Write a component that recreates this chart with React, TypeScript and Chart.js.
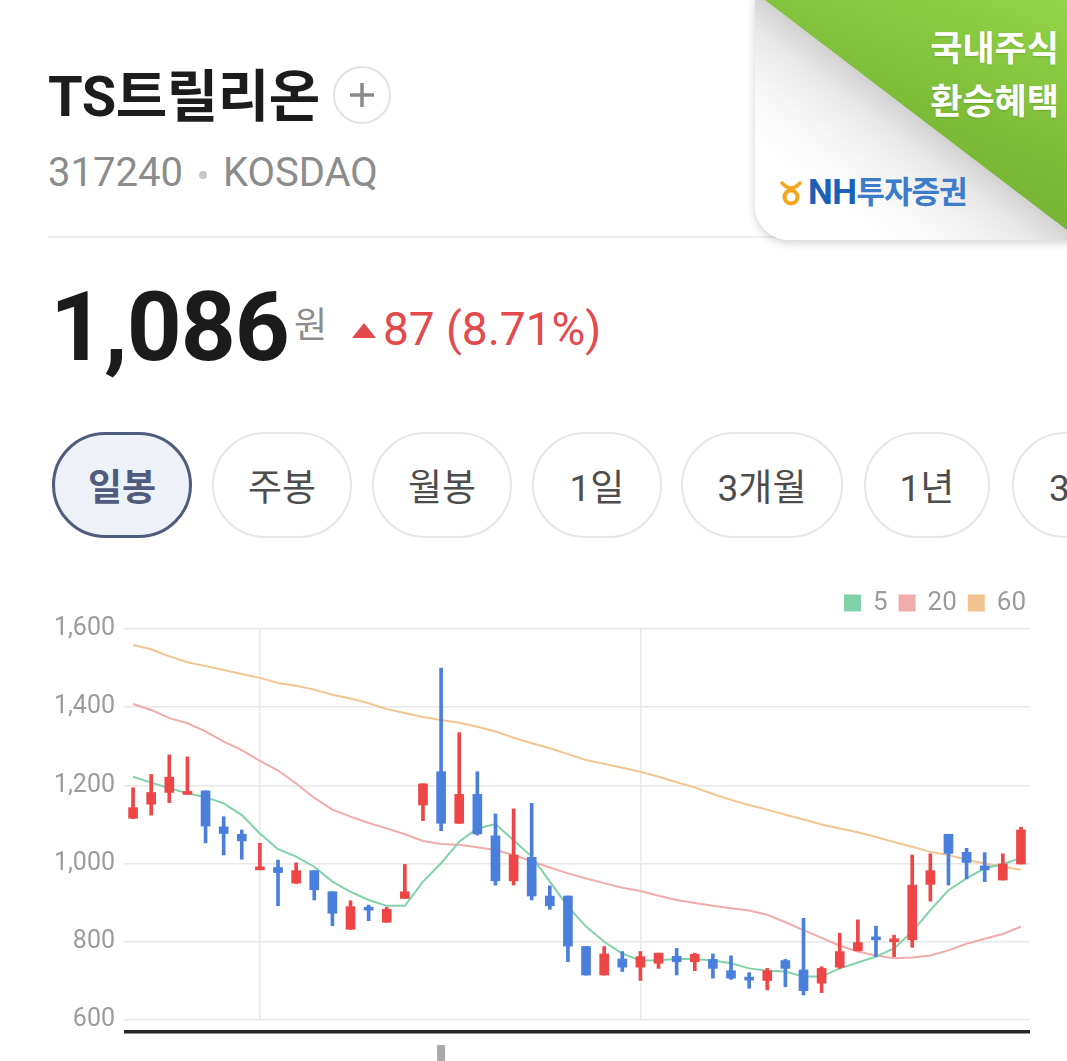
import React, { useEffect, useRef } from "react";
import { Chart, registerables } from "chart.js";

Chart.register(...registerables);

// ---- Daily candles (KRW) ----
const OPEN = [1116, 1152, 1182, 1177, 1186, 1094, 1075, 984, 990, 950, 982, 928, 832, 886, 850, 911, 1150, 1235, 1103, 1177, 1071, 956, 1016, 917, 917, 788, 715, 756, 735, 745, 763, 749, 755, 726, 707, 701, 752, 728, 694, 735, 777, 811, 800, 805, 947, 1075, 1029, 994, 958, 999];
const HIGH = [1194, 1228, 1278, 1273, 1186, 1120, 1086, 1052, 1009, 1002, 982, 928, 905, 894, 888, 998, 1204, 1500, 1335, 1235, 1127, 1140, 1154, 943, 917, 788, 788, 775, 775, 771, 783, 771, 769, 764, 721, 732, 755, 860, 736, 822, 856, 840, 817, 1022, 1025, 1075, 1039, 1028, 1025, 1093];
const LOW = [1115, 1124, 1156, 1177, 1053, 1022, 1011, 984, 892, 949, 907, 841, 832, 854, 850, 911, 1110, 1084, 1103, 1073, 945, 945, 907, 883, 749, 715, 715, 724, 701, 732, 715, 726, 707, 704, 681, 677, 685, 664, 670, 732, 777, 762, 762, 786, 904, 945, 961, 954, 958, 999];
const CLOSE = [1143, 1182, 1221, 1180, 1096, 1077, 1058, 990, 977, 982, 933, 873, 890, 881, 883, 928, 1204, 1103, 1177, 1076, 956, 1022, 917, 892, 789, 715, 769, 735, 762, 771, 749, 768, 732, 707, 702, 726, 732, 675, 732, 775, 798, 805, 806, 945, 982, 1026, 1003, 984, 999, 1086];

// ---- Moving averages ----
const MA5 = [1222, 1207, 1193, 1180, 1170, 1154, 1124, 1077, 1037, 1018, 992, 954, 928, 907, 892, 892, 954, 1001, 1056, 1090, 1101, 1060, 1018, 954, 890, 839, 800, 770, 752, 753, 756, 756, 752, 745, 732, 726, 724, 711, 711, 732, 747, 762, 783, 826, 881, 932, 962, 988, 999, 1014];
const MA20 = [1408, 1393, 1372, 1359, 1338, 1312, 1290, 1263, 1238, 1205, 1168, 1138, 1120, 1104, 1090, 1075, 1058, 1050, 1048, 1042, 1035, 1022, 1006, 990, 975, 962, 950, 938, 930, 918, 907, 899, 892, 886, 880, 869, 850, 830, 810, 790, 775, 765, 758, 760, 765, 778, 795, 808, 820, 839];
const MA60 = [1559, 1548, 1530, 1515, 1505, 1495, 1485, 1475, 1462, 1455, 1445, 1432, 1422, 1410, 1395, 1385, 1375, 1367, 1360, 1350, 1338, 1322, 1308, 1295, 1280, 1265, 1255, 1245, 1235, 1222, 1208, 1195, 1178, 1163, 1150, 1138, 1125, 1113, 1100, 1090, 1080, 1068, 1055, 1043, 1030, 1022, 1010, 1000, 992, 984];

const MA_LABELS = ["5", "20", "60"];
const Y_TICKS = [600, 800, 1000, 1200, 1400, 1600];
const MONTH_START_IDX = [7, 28];
const VIEW_MARKER_IDX = 17;

const PERIOD_TABS = ["일봉", "주봉", "월봉", "1일", "3개월", "1년", "3년"];

const RED = "#ee4646";
const BLUE = "#4a7fdc";
const FONT = "Roboto, 'Noto Sans CJK KR', sans-serif";

function CandleChart() {
  const ref = useRef<HTMLCanvasElement | null>(null);
  useEffect(() => {
    if (!ref.current) return;
    const categories = CLOSE.map((_, i) => String(i + 1));
    const colors = CLOSE.map((c, i) => (c >= OPEN[i] ? RED : BLUE));

    const legendGap = {
      id: "legendGap",
      beforeInit(chart: any) {
        const l = chart.legend;
        if (!l) return;
        const orig = l.fit;
        l.fit = function () {
          orig.call(this);
          this.height += 3;
        };
      },
      afterLayout(chart: any) {
        const l = chart.legend;
        if (!l) return;
        l.left += 8;
        l.right += 8;
      },
    };
    const axisDecor = {
      id: "axisDecor",
      afterDraw(chart: any) {
        const { ctx, chartArea } = chart;
        const xs = chart.scales.x;
        ctx.save();
        ctx.fillStyle = "#262626";
        ctx.fillRect(chartArea.left, chartArea.bottom + 10, chartArea.right - chartArea.left, 3.5);
        const mx = xs.getPixelForValue(VIEW_MARKER_IDX);
        ctx.fillStyle = "#a9a9a9";
        ctx.fillRect(mx - 4, chartArea.bottom + 25, 8, chart.height - chartArea.bottom - 25);
        ctx.restore();
      },
    };

    const chart = new Chart(ref.current, {
      type: "bar",
      data: {
        labels: categories,
        datasets: [
          {
            type: "bar",
            label: "wick",
            data: LOW.map((l, i) => [l, HIGH[i]]),
            backgroundColor: colors,
            barThickness: 3,
            grouped: false,
            minBarLength: 2,
          } as any,
          {
            type: "bar",
            label: "body",
            data: OPEN.map((o, i) => [Math.min(o, CLOSE[i]), Math.max(o, CLOSE[i])]),
            backgroundColor: colors,
            barThickness: 9,
            grouped: false,
            minBarLength: 3,
          } as any,
          {
            type: "line",
            label: MA_LABELS[0],
            data: MA5,
            borderColor: "#80d2a8",
            backgroundColor: "#80d2a8",
            borderWidth: 2,
            pointRadius: 0,
            tension: 0,
          } as any,
          {
            type: "line",
            label: MA_LABELS[1],
            data: MA20,
            borderColor: "#f0abab",
            backgroundColor: "#f0abab",
            borderWidth: 2,
            pointRadius: 0,
            tension: 0,
          } as any,
          {
            type: "line",
            label: MA_LABELS[2],
            data: MA60,
            borderColor: "#f2c590",
            backgroundColor: "#f2c590",
            borderWidth: 2,
            pointRadius: 0,
            tension: 0,
          } as any,
        ],
      },
      options: {
        animation: false,
        responsive: false,
        maintainAspectRatio: false,
        layout: { padding: { left: 0, right: 37, top: 0, bottom: 41 } },
        plugins: {
          tooltip: { enabled: false },
          legend: {
            display: true,
            position: "top",
            align: "end",
            labels: {
              filter: (item: any) => item.datasetIndex >= 2,
              boxWidth: 15,
              boxHeight: 15,
              padding: 12,
              color: "#9b9b9b",
              font: { size: 26, family: FONT },
            },
          },
        },
        scales: {
          x: {
            type: "category",
            offset: true,
            ticks: { display: false },
            border: { display: false },
            grid: {
              offset: false,
              drawTicks: false,
              lineWidth: 1.5,
              color: (ctx: any) => (MONTH_START_IDX.includes(ctx.index) ? "#e8e8e8" : "rgba(0,0,0,0)"),
            },
          },
          y: {
            min: 600,
            max: 1600,
            afterBuildTicks: (s: any) => {
              s.ticks = Y_TICKS.map((v) => ({ value: v }));
            },
            afterFit: (s: any) => {
              s.width = 124;
            },
            ticks: {
              color: "#9b9b9b",
              padding: 9,
              font: { size: 25, family: FONT },
              callback: (v: any) => Number(v).toLocaleString("en-US"),
            },
            grid: { color: "#e8e8e8", lineWidth: 1.5, drawTicks: false },
            border: { display: false },
          },
        },
      } as any,
      plugins: [legendGap, axisDecor],
    });
    return () => chart.destroy();
  }, []);
  return (
    <canvas
      ref={ref}
      width={1067}
      height={483}
      style={{ position: "absolute", left: 0, top: 578, width: 1067, height: 483 }}
    />
  );
}

function NHBanner() {
  return (
    <>
      <div
        style={{
          position: "absolute",
          left: 755,
          top: -4,
          width: 330,
          height: 244,
          borderBottomLeftRadius: 34,
          overflow: "hidden",
          boxShadow: "0 3px 8px rgba(0,0,0,0.18)",
          background: "#fff",
        }}
      >
        <div
          style={{
            position: "absolute",
            inset: 0,
            background:
              "linear-gradient(217deg, #d2d2d2 50%, #e8e8e8 57%, #f6f6f6 68%, #ffffff 80%)",
          }}
        />
        <div
          style={{
            position: "absolute",
            inset: 0,
            clipPath: "polygon(4.7px 0, 330px 0, 330px 247.7px)",
            background: "linear-gradient(200deg, #95d64a 0%, #7ebd38 45%, #6aa82c 100%)",
          }}
        />
      </div>
      <div
        style={{
          position: "absolute",
          right: 8,
          top: 23,
          textAlign: "right",
          color: "#fff",
          fontFamily: FONT,
          fontWeight: 700,
          fontSize: 35,
          lineHeight: "53px",
          textShadow: "0 1px 2px rgba(0,0,0,0.15)",
        }}
      >
        <div>국내주식</div>
        <div>환승혜택</div>
      </div>
      <div
        style={{
          position: "absolute",
          left: 779,
          top: 177,
          display: "flex",
          alignItems: "center",
          fontFamily: FONT,
          fontWeight: 700,
          whiteSpace: "nowrap",
        }}
      >
        <svg width="24" height="26" viewBox="0 0 24 26" style={{ marginRight: 5 }}>
          <path d="M3 3 Q12 13 21 3" stroke="#f4a51c" strokeWidth="3.5" fill="none" strokeLinecap="round" />
          <circle cx="12" cy="17" r="6.5" stroke="#f4a51c" strokeWidth="4" fill="none" />
        </svg>
        <span style={{ color: "#1c5fb6", fontSize: 35, lineHeight: "32px", letterSpacing: -0.5 }}>NH</span>
        <span style={{ color: "#3c7cc9", fontSize: 31, lineHeight: "32px", letterSpacing: -1 }}>투자증권</span>
      </div>
    </>
  );
}

function Header() {
  return (
    <>
      <div
        style={{
          position: "absolute",
          left: 48,
          top: 69,
          fontFamily: FONT,
          fontWeight: 700,
          fontSize: 56,
          lineHeight: "56px",
          color: "#1c1c1c",
          whiteSpace: "nowrap",
          letterSpacing: -0.5,
        }}
      >
        TS트릴리온
      </div>
      <div
        style={{
          position: "absolute",
          left: 333,
          top: 66,
          width: 58,
          height: 58,
          boxSizing: "border-box",
          borderRadius: "50%",
          border: "2px solid #e3e3e3",
        }}
      >
        <svg width="54" height="54" viewBox="0 0 54 54" style={{ position: "absolute", left: 0, top: 0 }}>
          <line x1="15" y1="27" x2="39" y2="27" stroke="#8a8a8a" strokeWidth="3.5" />
          <line x1="27" y1="15" x2="27" y2="39" stroke="#8a8a8a" strokeWidth="3.5" />
        </svg>
      </div>
      <div
        style={{
          position: "absolute",
          left: 48,
          top: 153,
          fontFamily: FONT,
          fontSize: 40,
          lineHeight: "40px",
          color: "#8c8c8c",
          whiteSpace: "nowrap",
          display: "flex",
          alignItems: "center",
        }}
      >
        <span>317240</span>
        <span
          style={{
            display: "inline-block",
            width: 8,
            height: 8,
            borderRadius: 4,
            background: "#c6c6c6",
            margin: "4px 16px 0 16px",
          }}
        />
        <span>KOSDAQ</span>
      </div>
      <div style={{ position: "absolute", left: 48, top: 236, width: 1019, height: 2, background: "#eeeeee" }} />

      <div
        style={{
          position: "absolute",
          left: 50,
          top: 279,
          fontFamily: FONT,
          fontWeight: 700,
          fontSize: 96,
          lineHeight: "96px",
          color: "#1b1b1b",
          letterSpacing: -1,
          whiteSpace: "nowrap",
        }}
      >
        1,086
      </div>
      <div
        style={{
          position: "absolute",
          left: 294,
          top: 306,
          fontFamily: FONT,
          fontSize: 36,
          lineHeight: "40px",
          color: "#8c8c8c",
        }}
      >
        원
      </div>
      <svg width="24" height="16" viewBox="0 0 24 16" style={{ position: "absolute", left: 352, top: 323 }}>
        <polygon points="12,0 24,15 0,15" fill="#e24a4c" />
      </svg>
      <div
        style={{
          position: "absolute",
          left: 383,
          top: 306,
          fontFamily: FONT,
          fontSize: 46,
          lineHeight: "46px",
          color: "#e24a4c",
          whiteSpace: "nowrap",
        }}
      >
        87 (8.71%)
      </div>
    </>
  );
}

const TAB_X = [52, 212, 372, 532, 681, 864, 1012];
const TAB_W = [140, 140, 140, 130, 162, 126, 140];

function Tabs() {
  return (
    <>
      {PERIOD_TABS.map((t, i) => {
        const sel = i === 0;
        return (
          <div
            key={t}
            style={{
              position: "absolute",
              left: TAB_X[i],
              top: 432,
              width: TAB_W[i],
              height: 106,
              boxSizing: "border-box",
              borderRadius: 53,
              border: sel ? "3px solid #4f5c7d" : "2.5px solid #e6e6e6",
              background: sel ? "#eff1f8" : "#fff",
              display: "flex",
              alignItems: "center",
              justifyContent: i < 6 ? "center" : "flex-start",
              paddingLeft: i === 6 ? 35 : 0,
              fontFamily: FONT,
              fontWeight: sel ? 700 : 400,
              fontSize: 37,
              color: sel ? "#4f5c7d" : "#4d4d4d",
              whiteSpace: "nowrap",
            }}
          >
            {t}
          </div>
        );
      })}
    </>
  );
}

export default function App() {
  return (
    <div
      style={{
        position: "absolute",
        left: 0,
        top: 0,
        width: 1067,
        height: 1061,
        overflow: "hidden",
        background: "#ffffff",
        fontFamily: FONT,
      }}
    >
      <Header />
      <NHBanner />
      <Tabs />
      <CandleChart />
    </div>
  );
}
